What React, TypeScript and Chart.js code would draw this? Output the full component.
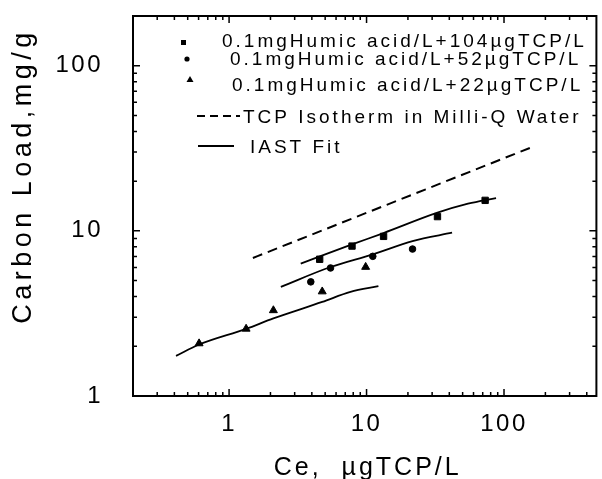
import React, { useEffect, useRef } from 'react';
import { Chart, registerables } from 'chart.js';

Chart.register(...registerables);

// ---- data ----
const xMin = 0.2;
const xMax = 470;
const yMin = 1;
const yMax = 200;
const xTickValues = [1, 10, 100];
const xTickLabels = ['1', '10', '100'];
const yTickValues = [1, 10, 100];
const yTickLabels = ['1', '10', '100'];

const legendLabels = [
  '0.1mgHumic acid/L+104\u00b5gTCP/L',
  '0.1mgHumic acid/L+52\u00b5gTCP/L',
  '0.1mgHumic acid/L+22\u00b5gTCP/L',
  'TCP Isotherm in Milli-Q Water',
  'IAST Fit',
];
const xTitle = 'Ce,  \u00b5gTCP/L';
const yTitle = 'Carbon Load,mg/g';

const s104X = [4.56, 7.84, 13.3, 32.8, 72.9];
const s104Y = [6.73, 8.09, 9.26, 12.2, 15.3];
const s52X = [3.93, 5.47, 11.1, 21.6];
const s52Y = [4.91, 5.96, 7.01, 7.76];
const s22X = [0.605, 1.33, 2.1, 4.76, 9.85];
const s22Y = [2.08, 2.55, 3.3, 4.29, 6.04];

const isoX = [1.49, 156];
const isoY = [6.85, 31.9];
const fit104X = [3.32, 7.84, 13.3, 32.8, 54.7, 87.5];
const fit104Y = [6.34, 8.28, 9.7, 12.88, 14.6, 15.8];
const fit52X = [2.38, 5.47, 11.1, 21.6, 41.9];
const fit52Y = [4.58, 6.04, 7.21, 8.68, 9.75];
const fit22X = [0.411, 0.605, 1.33, 2.1, 4.76, 7.64, 12.2];
const fit22Y = [1.75, 2.05, 2.55, 2.95, 3.71, 4.27, 4.62];

const FONT = '"Liberation Sans", Arial, Helvetica, sans-serif';

const zip = (xs: number[], ys: number[]) => xs.map((x, i) => ({ x, y: ys[i] }));

function logTickValues(min: number, max: number) {
  const out: number[] = [];
  for (let e = -2; e <= 4; e++) {
    const d = Math.pow(10, e);
    for (let m = 1; m <= 9; m++) {
      const v = +(m * d).toPrecision(6);
      if (v >= min - 1e-9 && v <= max + 1e-9) out.push(v);
    }
  }
  return out;
}

const framePlugin = {
  id: 'frameTicks',
  beforeDraw(chart: any) {
    const ctx = chart.ctx;
    try { ctx.letterSpacing = '2.5px'; } catch (e) {}
  },
  afterDraw(chart: any) {
    const ctx = chart.ctx;
    const { left, right, top, bottom } = chart.chartArea;
    const xs = chart.scales.x;
    const ys = chart.scales.y;
    ctx.save();
    ctx.strokeStyle = '#000';
    ctx.fillStyle = '#000';
    ctx.lineWidth = 2;
    ctx.strokeRect(left, top, right - left, bottom - top);
    ctx.lineWidth = 1.5;
    ctx.beginPath();
    logTickValues(xMin, xMax).forEach((v) => {
      const px = xs.getPixelForValue(v);
      const len = xTickValues.includes(v) ? 7 : 4;
      ctx.moveTo(px, bottom);
      ctx.lineTo(px, bottom - len);
      ctx.moveTo(px, top);
      ctx.lineTo(px, top + len);
    });
    logTickValues(yMin, yMax).forEach((v) => {
      const py = ys.getPixelForValue(v);
      const len = yTickValues.includes(v) ? 7 : 4;
      ctx.moveTo(left, py);
      ctx.lineTo(left + len, py);
      ctx.moveTo(right, py);
      ctx.lineTo(right - len, py);
    });
    ctx.stroke();

    // axis titles
    ctx.textBaseline = 'alphabetic';
    ctx.textAlign = 'center';
    try { ctx.letterSpacing = '3px'; } catch (e) {}
    ctx.font = `25px ${FONT}`;
    ctx.fillText(xTitle, (left + right) / 2 + 3, 475);

    ctx.save();
    ctx.translate(31, 176);
    ctx.rotate(-Math.PI / 2);
    try { ctx.letterSpacing = '4.5px'; } catch (e) {}
    ctx.font = `27px ${FONT}`;
    ctx.fillText(yTitle, 0, 0);
    ctx.restore();

    // legend
    try { ctx.letterSpacing = '3px'; } catch (e) {}
    ctx.font = `19px ${FONT}`;
    ctx.textAlign = 'left';
    ctx.fillText(legendLabels[0], 222, 47);
    ctx.fillText(legendLabels[1], 230, 65);
    ctx.fillText(legendLabels[2], 232, 91);
    ctx.fillText(legendLabels[3], 243, 123);
    ctx.fillText(legendLabels[4], 250, 153);
    // markers
    ctx.fillRect(181, 40, 5, 5);
    ctx.beginPath();
    ctx.arc(187, 59, 2.6, 0, Math.PI * 2);
    ctx.fill();
    ctx.beginPath();
    ctx.moveTo(190, 76);
    ctx.lineTo(193.5, 82);
    ctx.lineTo(186.5, 82);
    ctx.closePath();
    ctx.fill();
    // line samples
    ctx.lineWidth = 1.8;
    ctx.setLineDash([8, 5]);
    ctx.beginPath();
    ctx.moveTo(197, 116);
    ctx.lineTo(240, 116);
    ctx.stroke();
    ctx.setLineDash([]);
    ctx.beginPath();
    ctx.moveTo(198, 146);
    ctx.lineTo(234, 146);
    ctx.stroke();
    ctx.restore();
  },
};

export default function App() {
  const ref = useRef<HTMLCanvasElement | null>(null);
  useEffect(() => {
    if (!ref.current) return;
    const lineDs = (xs: number[], ys: number[], dash: number[] = []) => ({
      data: zip(xs, ys),
      showLine: true,
      pointRadius: 0,
      borderColor: '#000',
      backgroundColor: '#000',
      borderWidth: dash.length ? 2 : 1.8,
      borderDash: dash,
      cubicInterpolationMode: 'monotone',
      fill: false,
    });
    const ptDs = (xs: number[], ys: number[], style: string, r: number) => ({
      data: zip(xs, ys),
      showLine: false,
      pointStyle: style,
      pointRadius: r,
      pointBackgroundColor: '#000',
      pointBorderColor: '#000',
      pointBorderWidth: 1,
    });
    const chart = new Chart(ref.current, {
      type: 'scatter',
      data: {
        datasets: [
          ptDs(s104X, s104Y, 'rect', 4.5),
          ptDs(s52X, s52Y, 'circle', 3.3),
          ptDs(s22X, s22Y, 'triangle', 4.6),
          lineDs(isoX, isoY, [10, 6]),
          lineDs(fit104X, fit104Y),
          lineDs(fit52X, fit52Y),
          lineDs(fit22X, fit22Y),
        ] as any,
      },
      options: {
        animation: false,
        responsive: false,
        devicePixelRatio: 1,
        layout: { padding: { top: 16, right: 3, left: 0, bottom: 0 } },
        plugins: { legend: { display: false }, tooltip: { enabled: false } },
        scales: {
          x: {
            type: 'logarithmic',
            position: 'bottom',
            min: xMin,
            max: xMax,
            afterBuildTicks: (s: any) => {
              s.ticks = xTickValues.map((v) => ({ value: v }));
            },
            afterFit: (s: any) => {
              s.height = 83;
              s.paddingLeft = 0;
              s.paddingRight = 0;
              s.paddingTop = 0;
              s.paddingBottom = 0;
            },
            ticks: {
              callback: (v: any) => {
                const i = xTickValues.indexOf(Number(v));
                return i >= 0 ? xTickLabels[i] : '';
              },
              font: { family: FONT, size: 24 },
              color: '#000',
              padding: 6,
              maxRotation: 0,
              autoSkip: false,
            },
            grid: { display: false },
            border: { display: false },
          },
          y: {
            type: 'logarithmic',
            position: 'left',
            min: yMin,
            max: yMax,
            afterBuildTicks: (s: any) => {
              s.ticks = yTickValues.map((v) => ({ value: v }));
            },
            afterFit: (s: any) => {
              s.width = 133;
              s.paddingLeft = 0;
              s.paddingRight = 0;
              s.paddingTop = 0;
              s.paddingBottom = 0;
            },
            ticks: {
              callback: (v: any) => {
                const i = yTickValues.indexOf(Number(v));
                return i >= 0 ? yTickLabels[i] : '';
              },
              font: { family: FONT, size: 24 },
              color: '#000',
              padding: 22,
              autoSkip: false,
            },
            grid: { display: false },
            border: { display: false },
          },
        },
      } as any,
      plugins: [framePlugin],
    });
    return () => chart.destroy();
  }, []);
  return (
    <div style={{ position: 'absolute', left: 0, top: 0, width: 602, height: 479, background: '#fff' }}>
      <canvas ref={ref} width={602} height={479} style={{ display: 'block' }} />
    </div>
  );
}
